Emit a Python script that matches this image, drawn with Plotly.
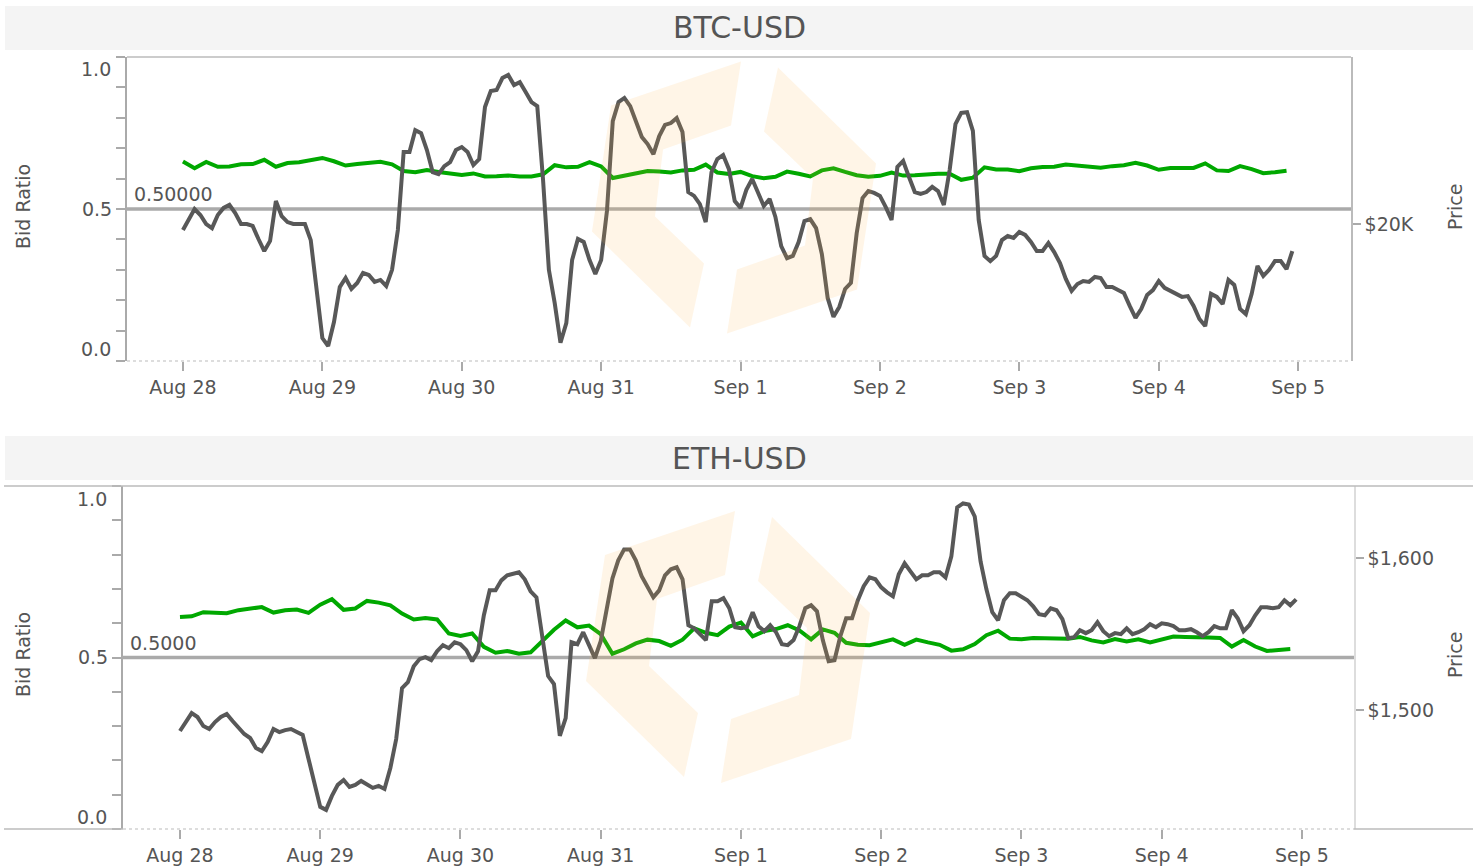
import pandas as pd
import plotly.graph_objects as go

W, H = 1481, 866

# ---------------- data ----------------
hours = pd.date_range("2022-08-28 00:00", periods=192, freq="h")
bid_times = pd.date_range("2022-08-28 00:00", periods=96, freq="2h")
day_ticks = pd.date_range("2022-08-28", "2022-09-05", freq="D")

btc_price = [
    19978, 20018, 20055, 20033, 20000, 19985, 20033, 20059, 20070, 20040,
    20000, 20000, 19993, 19945, 19901, 19938, 20084, 20029, 20007, 20000,
    20000, 20000, 19941, 19747, 19582, 19553, 19641, 19769, 19802, 19762,
    19784, 19821, 19813, 19788, 19795, 19773, 19832, 19978, 20264, 20264,
    20344, 20333, 20271, 20190, 20183, 20212, 20227, 20271, 20282, 20264,
    20216, 20238, 20429, 20487, 20491, 20535, 20546, 20509, 20520, 20484,
    20447, 20432, 20161, 19832, 19711, 19565, 19637, 19868, 19945, 19934,
    19868, 19817, 19868, 20048, 20377, 20447, 20462, 20432, 20374, 20319,
    20293, 20256, 20322, 20363, 20370, 20388, 20337, 20117, 20103, 20073,
    20007, 20190, 20238, 20253, 20201, 20084, 20059, 20125, 20165, 20114,
    20066, 20092, 20026, 19919, 19875, 19883, 19934, 20011, 20018, 19985,
    19890, 19729, 19660, 19696, 19762, 19784, 19967, 20095, 20121, 20114,
    20103, 20062, 20015, 20209, 20231, 20172, 20117, 20110, 20117, 20136,
    20121, 20070, 20198, 20366, 20407, 20410, 20341, 20015, 19883, 19864,
    19883, 19941, 19956, 19949, 19971, 19960, 19934, 19901, 19901, 19930,
    19897, 19857, 19799, 19755, 19780, 19791, 19788, 19806, 19802, 19769,
    19769, 19758, 19747, 19700, 19656, 19689, 19740, 19758, 19791, 19766,
    19755, 19740, 19733, 19736, 19700, 19652, 19626, 19744, 19733, 19707,
    19795, 19777, 19689, 19670, 19744, 19846, 19810, 19832, 19864, 19864,
    19835, 19901,
]

eth_price = [
    1486.2, 1492.1, 1498.0, 1495.4, 1489.5, 1487.5, 1492.1, 1495.4, 1497.4, 1492.8,
    1488.2, 1484.2, 1481.6, 1475.0, 1473.0, 1478.9, 1487.5, 1485.5, 1486.8, 1487.5,
    1485.5, 1483.6, 1467.8, 1452.6, 1436.2, 1434.2, 1443.4, 1450.7, 1453.9, 1449.3,
    1450.7, 1453.3, 1450.7, 1448.7, 1450.0, 1448.0, 1461.8, 1480.9, 1514.5, 1518.4,
    1528.9, 1533.6, 1534.9, 1532.9, 1538.8, 1542.8, 1540.8, 1544.7, 1543.4, 1539.5,
    1532.2, 1538.8, 1562.5, 1578.9, 1578.9, 1585.5, 1588.8, 1589.5, 1590.8, 1586.2,
    1578.3, 1574.3, 1548.0, 1522.4, 1517.1, 1483.0, 1494.7, 1544.7, 1543.4, 1551.3,
    1542.8, 1534.2, 1545.4, 1567.1, 1586.8, 1598.7, 1605.9, 1605.9, 1598.7, 1588.2,
    1581.6, 1574.3, 1578.9, 1588.8, 1592.8, 1594.1, 1586.2, 1555.9, 1553.9, 1550.0,
    1546.1, 1571.7, 1571.7, 1573.7, 1567.1, 1554.6, 1553.9, 1554.6, 1564.5, 1555.3,
    1552.0, 1555.9, 1551.3, 1543.4, 1542.8, 1546.1, 1555.3, 1567.1, 1569.1, 1565.1,
    1546.1, 1532.2, 1532.9, 1548.7, 1560.5, 1560.5, 1572.4, 1581.6, 1587.5, 1586.2,
    1580.9, 1577.6, 1575.0, 1589.5, 1596.7, 1591.4, 1586.2, 1588.8, 1588.8, 1590.8,
    1590.8, 1587.5, 1601.3, 1633.6, 1636.2, 1635.5, 1627.6, 1598.0, 1579.6, 1564.5,
    1559.2, 1572.4, 1577.0, 1577.0, 1575.0, 1572.4, 1568.4, 1563.2, 1562.5, 1567.1,
    1565.8, 1559.9, 1547.4, 1548.0, 1552.6, 1550.7, 1552.6, 1557.9, 1552.0, 1548.7,
    1550.7, 1550.0, 1553.9, 1550.0, 1551.3, 1553.3, 1556.6, 1554.6, 1557.2, 1556.6,
    1555.3, 1552.6, 1552.6, 1553.3, 1551.3, 1548.7, 1551.3, 1555.3, 1553.9, 1553.9,
    1565.8, 1560.5, 1552.0, 1555.9, 1562.5, 1567.8, 1567.8, 1567.1, 1567.8, 1572.4,
    1569.1, 1573.0,
]

btc_bid = [
    0.656, 0.634, 0.655, 0.639, 0.640, 0.647, 0.648, 0.662, 0.639, 0.651,
    0.654, 0.662, 0.668, 0.657, 0.643, 0.648, 0.651, 0.655, 0.647, 0.625,
    0.621, 0.628, 0.622, 0.618, 0.612, 0.617, 0.607, 0.608, 0.610, 0.607,
    0.607, 0.614, 0.644, 0.637, 0.639, 0.654, 0.640, 0.602, 0.609, 0.617,
    0.625, 0.623, 0.620, 0.627, 0.629, 0.646, 0.620, 0.615, 0.622, 0.608,
    0.601, 0.606, 0.623, 0.616, 0.607, 0.627, 0.634, 0.622, 0.611, 0.606,
    0.609, 0.620, 0.610, 0.611, 0.614, 0.616, 0.616, 0.596, 0.603, 0.637,
    0.630, 0.630, 0.624, 0.634, 0.638, 0.639, 0.646, 0.642, 0.641, 0.636,
    0.641, 0.644, 0.652, 0.643, 0.629, 0.635, 0.635, 0.635, 0.650, 0.627,
    0.625, 0.641, 0.631, 0.618, 0.621, 0.626,
]

eth_bid = [
    0.618, 0.620, 0.632, 0.631, 0.629, 0.638, 0.642, 0.647, 0.631, 0.638,
    0.640, 0.630, 0.654, 0.670, 0.639, 0.643, 0.665, 0.660, 0.652, 0.628,
    0.611, 0.615, 0.611, 0.570, 0.563, 0.570, 0.531, 0.514, 0.519, 0.511,
    0.515, 0.549, 0.581, 0.608, 0.588, 0.593, 0.568, 0.511, 0.524, 0.541,
    0.552, 0.548, 0.534, 0.552, 0.585, 0.572, 0.565, 0.590, 0.602, 0.562,
    0.577, 0.583, 0.594, 0.579, 0.553, 0.582, 0.572, 0.543, 0.537, 0.536,
    0.544, 0.553, 0.537, 0.552, 0.544, 0.537, 0.520, 0.524, 0.539, 0.565,
    0.578, 0.555, 0.553, 0.557, 0.556, 0.555, 0.555, 0.560, 0.550, 0.544,
    0.554, 0.547, 0.553, 0.544, 0.552, 0.561, 0.560, 0.558, 0.558, 0.557,
    0.532, 0.551, 0.532, 0.519, 0.521, 0.525,
]

panel_titles = ["BTC-USD", "ETH-USD"]
ref_labels = ["0.50000", "0.5000"]
btc_right_ticks = [20000]
btc_right_text = ["$20K"]
eth_right_ticks = [1500, 1600]
eth_right_text = ["$1,500", "$1,600"]

# ---------------- style ----------------
FONT = "DejaVu Sans"
TXT = "#555555"
AX = "#aaaaaa"
GRAY_LINE = "#585858"
GREEN = "#00a800"
LW = 4


def fx(x):
    return x / W


def fy(y):
    return 1 - y / H


fig = go.Figure()

fig.add_trace(go.Scatter(x=bid_times, y=btc_bid, mode="lines", xaxis="x", yaxis="y",
                         line=dict(color=GREEN, width=LW), name="Bid Ratio"))
fig.add_trace(go.Scatter(x=hours, y=btc_price, mode="lines", xaxis="x", yaxis="y2",
                         line=dict(color=GRAY_LINE, width=LW), name="Price"))
fig.add_trace(go.Scatter(x=bid_times, y=eth_bid, mode="lines", xaxis="x2", yaxis="y3",
                         line=dict(color=GREEN, width=LW), name="Bid Ratio"))
fig.add_trace(go.Scatter(x=hours, y=eth_price, mode="lines", xaxis="x2", yaxis="y4",
                         line=dict(color=GRAY_LINE, width=LW), name="Price"))

minor_vals = [i / 10 for i in range(11)]


def xaxis_cfg(domain, rng, anchor):
    return dict(domain=domain, range=rng, anchor=anchor, type="date",
                tickvals=list(day_ticks), tickformat="%b %-d",
                ticks="outside", ticklen=9, tickwidth=1.5, tickcolor=AX,
                showline=False, showgrid=False, zeroline=False,
                tickfont=dict(family=FONT, size=19, color=TXT))


def left_cfg(domain, anchor):
    return dict(domain=domain, range=[0, 1], anchor=anchor,
                tickvals=[0.5], ticktext=["0.5"],
                ticks="outside", ticklen=9, tickwidth=1.5, tickcolor=AX,
                minor=dict(tickvals=minor_vals, ticks="outside", ticklen=9,
                           tickwidth=1.5, tickcolor=AX),
                showline=True, linecolor=AX, linewidth=2,
                showgrid=False, zeroline=False,
                tickfont=dict(family=FONT, size=19, color=TXT))


def right_cfg(overlay, anchor, rng, vals, text, linecolor):
    return dict(overlaying=overlay, side="right", anchor=anchor, range=rng,
                tickvals=vals, ticktext=text,
                ticks="outside", ticklen=8, tickwidth=1.5, tickcolor=AX,
                showline=True, linecolor=linecolor, linewidth=1.5,
                showgrid=False, zeroline=False,
                tickfont=dict(family=FONT, size=19, color=TXT))


top_xd = [fx(127), fx(1351)]
top_yd = [fy(361), fy(57)]
bot_xd = [fx(123), fx(1354)]
bot_yd = [fy(829), fy(486)]

fig.update_layout(
    width=W, height=H, autosize=False,
    margin=dict(l=0, r=0, t=0, b=0),
    paper_bgcolor="white", plot_bgcolor="white",
    showlegend=False,
    font=dict(family=FONT, color=TXT),
    xaxis=xaxis_cfg(top_xd, ["2022-08-27 14:22", "2022-09-05 09:06"], "y"),
    yaxis=left_cfg(top_yd, "x"),
    yaxis2=right_cfg("y", "x", [19498, 20612], btc_right_ticks, btc_right_text, "#bbbbbb"),
    xaxis2=xaxis_cfg(bot_xd, ["2022-08-27 14:15", "2022-09-05 08:54"], "y3"),
    yaxis3=left_cfg(bot_yd, "x2"),
    yaxis4=right_cfg("y3", "x2", [1421.6, 1647.7], eth_right_ticks, eth_right_text, "#dddddd"),
)

shapes = []
# title bands
for y0, y1 in [(6, 50), (436, 480)]:
    shapes.append(dict(type="rect", xref="paper", yref="paper",
                       x0=fx(5), x1=fx(1473), y0=fy(y1), y1=fy(y0),
                       fillcolor="#f4f4f4", line=dict(width=0), layer="below"))


def hline(x0, x1, y, color="#bbbbbb", dash="solid", width=1.5):
    return dict(type="line", xref="paper", yref="paper",
                x0=fx(x0), x1=fx(x1), y0=fy(y), y1=fy(y),
                line=dict(color=color, width=width, dash=dash))


# top panel frame
shapes.append(hline(127, 1351, 57))
shapes.append(hline(127, 1351, 361, color="#bbbbbb", dash="dot", width=1.2))
# bottom panel frame
shapes.append(hline(4, 1473, 486))
shapes.append(hline(4, 123, 829))
shapes.append(hline(123, 1354, 829, color="#bbbbbb", dash="dot", width=1.2))
shapes.append(hline(1354, 1473, 829))

# 0.5 reference lines
for xr, yr in [("x domain", "y"), ("x2 domain", "y3")]:
    shapes.append(dict(type="line", xref=xr, yref=yr, x0=0, x1=1, y0=0.5, y1=0.5,
                       line=dict(color="#aaaaaa", width=3.5), layer="below"))

# faint watermark logo (two chevrons)
piece = [(7, -136), (-123, -92), (-142, 34), (-44, 130), (-30, 66), (-79, 19), (-71, -48), (-3, -72)]
for cx, cy in [(734, 197.5), (728, 647)]:
    for sgn in (1, -1):
        pts = [(cx + sgn * dx, cy + sgn * dy) for dx, dy in piece]
        path = "M " + " L ".join(f"{fx(px):.5f},{fy(py):.5f}" for px, py in pts) + " Z"
        shapes.append(dict(type="path", xref="paper", yref="paper", path=path,
                           fillcolor="rgba(252,175,70,0.13)", line=dict(width=0),
                           layer="above"))

fig.update_layout(shapes=shapes)

ann = []
# panel titles
for title, yc in zip(panel_titles, [28, 458]):
    ann.append(dict(text=title, xref="paper", yref="paper", x=fx(739), y=fy(yc),
                    xanchor="center", yanchor="middle", showarrow=False,
                    font=dict(family=FONT, size=30, color=TXT)))
# reference labels
for lab, xp, yr in [(ref_labels[0], 132, "y"), (ref_labels[1], 128, "y3")]:
    ann.append(dict(text=lab, xref="paper", yref=yr, x=fx(xp), y=0.5,
                    xanchor="left", yanchor="bottom", yshift=2, showarrow=False,
                    font=dict(family=FONT, size=19, color=TXT)))
# end labels on bid-ratio axes (drawn inset like the original)
for yr, xp, v_top, v_bot in [("y", 113, 0.96, 0.04), ("y3", 109, 0.962, 0.035)]:
    for v, lab in [(v_top, "1.0"), (v_bot, "0.0")]:
        ann.append(dict(text=lab, xref="paper", yref=yr, x=fx(xp), y=v,
                        xanchor="right", yanchor="middle", showarrow=False,
                        font=dict(family=FONT, size=19, color=TXT)))
# axis titles
for yc in [207, 655]:
    ann.append(dict(text="Bid Ratio", xref="paper", yref="paper", x=fx(23), y=fy(yc),
                    xanchor="center", yanchor="middle", textangle=-90, showarrow=False,
                    font=dict(family=FONT, size=19, color=TXT)))
    ann.append(dict(text="Price", xref="paper", yref="paper", x=fx(1455), y=fy(yc),
                    xanchor="center", yanchor="middle", textangle=-90, showarrow=False,
                    font=dict(family=FONT, size=19, color=TXT)))
fig.update_layout(annotations=ann)

fig.write_html("out.html",
               config={"displayModeBar": False},
               post_script="document.body.style.margin='0';document.body.style.overflow='hidden';")
